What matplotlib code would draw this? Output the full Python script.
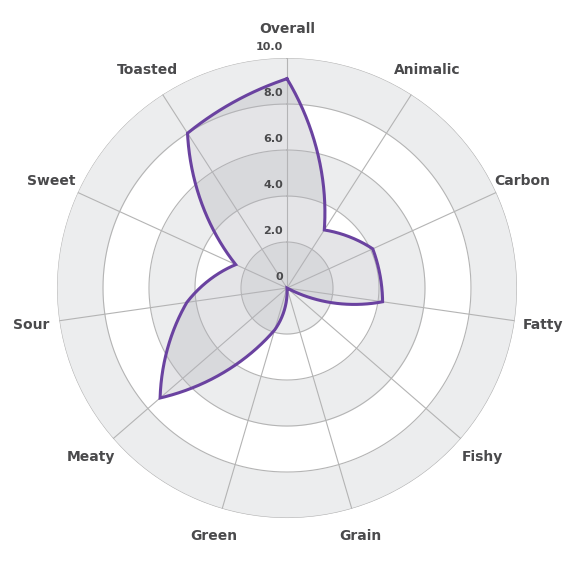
import matplotlib
matplotlib.use("Agg")
import matplotlib.pyplot as plt
import numpy as np

categories = ['Overall', 'Animalic', 'Carbon', 'Fatty', 'Fishy', 'Grain',
              'Green', 'Meaty', 'Sour', 'Sweet', 'Toasted']
values = [9.1, 3.0, 4.1, 4.2, 0.0, 0.0, 1.9, 7.3, 4.4, 2.45, 8.0]
ring_ticks = [0, 2, 4, 6, 8, 10]
ring_labels = ['0', '2.0', '4.0', '6.0', '8.0', '10.0']

text_color = '#4a4a4c'
grid_color = '#b4b4b4'
band_color = '#ecedee'
line_color = '#6a42a0'

plt.rcParams['font.family'] = ['DejaVu Sans']

fig = plt.figure(figsize=(5.75, 5.75), dpi=100)
ax = fig.add_axes([0.0991, 0.0991, 0.8, 0.8], projection='polar')
ax.set_theta_zero_location('N')
ax.set_theta_direction(-1)
ax.set_ylim(0, 10)

n = len(categories)
angles = np.arange(n) * 2 * np.pi / n

# alternating bands
full = np.linspace(0, 2 * np.pi, 361)
for lo in [0, 4, 8]:
    ax.fill_between(full, lo, lo + 2, color=band_color, lw=0, zorder=0)

# rings and spokes
for r in ring_ticks[1:]:
    ax.plot(full, np.full_like(full, r), color=grid_color, lw=0.8, zorder=1)
for a in angles:
    ax.plot([a, a], [0, 10], color=grid_color, lw=0.8, zorder=1)

ax.grid(False)
ax.set_xticks([])
ax.set_yticks([])
ax.spines['polar'].set_visible(False)
ax.patch.set_alpha(0)


def curved_segments(th, vals, mix=0.6, steps=60):
    """curve between neighbours: part spiral (r linear in angle), part chord"""
    out_t, out_r = [], []
    for i in range(len(th)):
        t0, t1 = th[i], th[i] + 2 * np.pi / len(th)
        r0, r1 = vals[i], vals[(i + 1) % len(vals)]
        s = np.linspace(0, 1, steps)
        ts = t0 + (t1 - t0) * s
        rs = r0 + (r1 - r0) * s
        sx, sy = rs * np.sin(ts), rs * np.cos(ts)
        cx = r0 * np.sin(t0) + (r1 * np.sin(t1) - r0 * np.sin(t0)) * s
        cy = r0 * np.cos(t0) + (r1 * np.cos(t1) - r0 * np.cos(t0)) * s
        x = mix * sx + (1 - mix) * cx
        y = mix * sy + (1 - mix) * cy
        out_t.append(np.arctan2(x, y))
        out_r.append(np.hypot(x, y))
    return np.concatenate(out_t), np.concatenate(out_r)


tt, rr = curved_segments(angles, values)
ax.fill(tt, rr, color='#b4b4bc', alpha=0.35, lw=0, zorder=2)
ax.plot(np.append(tt, tt[0]), np.append(rr, rr[0]), color=line_color, lw=2.2,
        zorder=3, solid_joinstyle='miter')

# radial tick labels along the Overall axis
for v, lab in zip(ring_ticks, ring_labels):
    ax.annotate(lab, xy=(0, v), xytext=(-3, 4), textcoords='offset points',
                ha='right', va='bottom', fontsize=8, fontweight='bold',
                color=text_color, zorder=4, annotation_clip=False)

# category labels
for a, lab in zip(angles, categories):
    ax.text(a, 11.25, lab, ha='center', va='center', fontsize=10,
            fontweight='bold', color=text_color, clip_on=False)

fig.savefig('out.png', dpi=100)
